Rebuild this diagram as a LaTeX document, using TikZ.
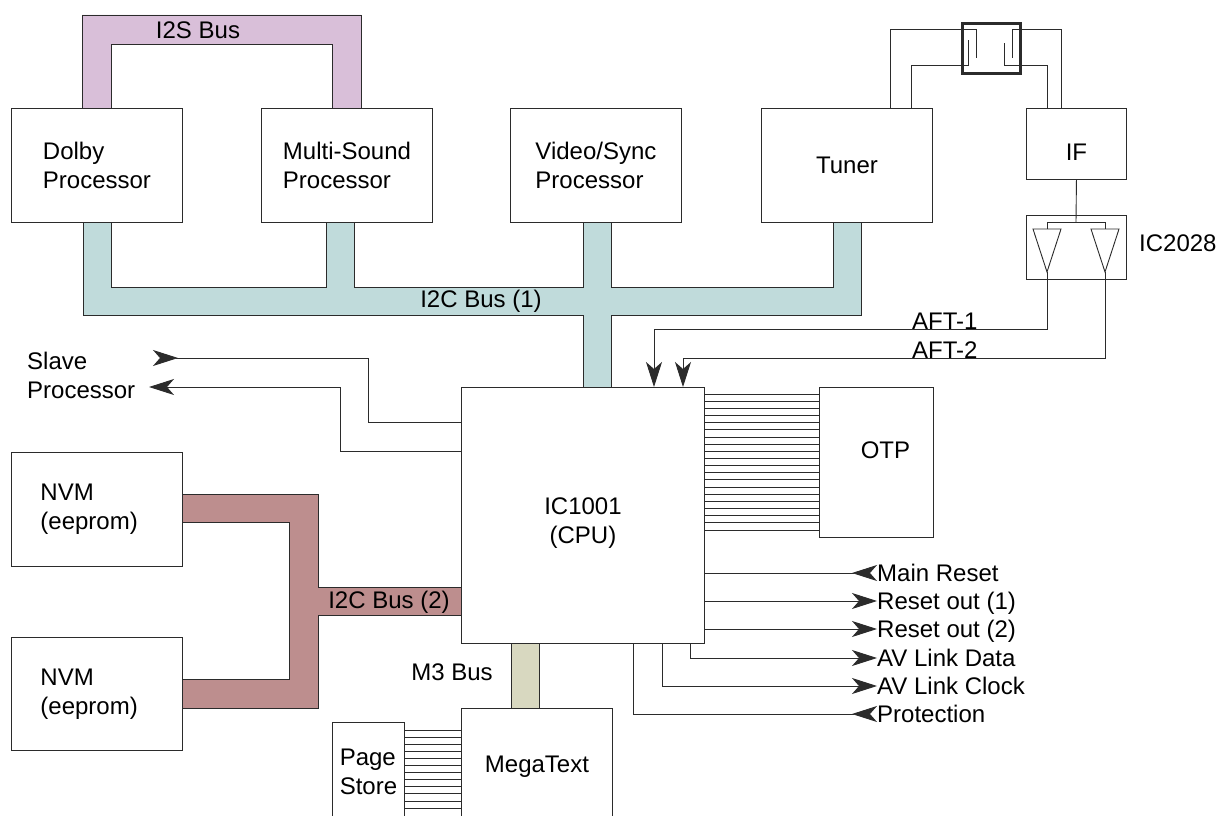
\documentclass[tikz,border=0pt]{standalone}
\usepackage{fontspec}
\setmainfont{Liberation Sans}
\usetikzlibrary{arrows.meta, positioning, calc}
\definecolor{ink}{HTML}{2B2B2B}
\definecolor{i2sbus}{HTML}{D9BFD9}
\definecolor{i2cone}{HTML}{C0DBDB}
\definecolor{i2ctwo}{HTML}{BD8E8E}
\definecolor{mthree}{HTML}{D8D8C0}
\tikzset{
  block/.style    = {rectangle, draw=ink, line width=0.9pt, fill=white, anchor=north west,
                      align=left, inner sep=0pt, font=\fontsize{24}{29}\selectfont},
  buslabel/.style = {font=\fontsize{24}{29}\selectfont, inner sep=0pt},
  siglabel/.style = {font=\fontsize{24}{29}\selectfont, inner sep=0pt, anchor=west,
                      text height=17pt, text depth=0pt},
  wire/.style     = {draw=ink, line width=0.9pt},
  busedge/.style  = {draw=ink, line width=0.9pt},
  sigout/.style   = {wire, -{Stealth[length=25pt, width=16pt, inset=7pt]}},
  sigin/.style    = {wire, -{Stealth[length=25pt, width=16pt, inset=7pt, reversed]}},
}
\begin{document}
\begin{tikzpicture}[x=1pt, y=-1pt]
  \useasboundingbox (0,0) rectangle (1221,816);
  \clip (0,0) rectangle (1221,816);

  \fill[i2sbus] (82,108) -- (82,15) -- (361,15) -- (361,108) -- (332,108) -- (332,44) -- (111,44) -- (111,108) -- cycle;
  \draw[busedge] (82,108) -- (82,15) -- (361,15) -- (361,108);
  \draw[busedge] (332,108) -- (332,44) -- (111,44) -- (111,108);

  \fill[i2cone] (83,222) -- (83,315) -- (583,315) -- (583,387) -- (611,387) -- (611,315) -- (861,315)
    -- (861,222) -- (833,222) -- (833,287) -- (611,287) -- (611,222) -- (583,222) -- (583,287)
    -- (354,287) -- (354,222) -- (326,222) -- (326,287) -- (111,287) -- (111,222) -- cycle;
  \draw[busedge] (83,222) -- (83,315) -- (583,315) -- (583,387);
  \draw[busedge] (611,387) -- (611,315) -- (861,315) -- (861,222);
  \draw[busedge] (833,222) -- (833,287) -- (611,287) -- (611,222);
  \draw[busedge] (583,222) -- (583,287) -- (354,287) -- (354,222);
  \draw[busedge] (326,222) -- (326,287) -- (111,287) -- (111,222);

  \fill[i2ctwo] (182,494) -- (318,494) -- (318,587) -- (461,587) -- (461,615) -- (318,615) -- (318,708)
    -- (182,708) -- (182,679) -- (289,679) -- (289,522) -- (182,522) -- cycle;
  \draw[busedge] (182,494) -- (318,494) -- (318,587) -- (461,587);
  \draw[busedge] (461,615) -- (318,615) -- (318,708) -- (182,708);
  \draw[busedge] (182,679) -- (289,679) -- (289,522) -- (182,522);

  \fill[mthree] (511,643) rectangle (539,708);
  \draw[busedge] (511,643) -- (511,708);
  \draw[busedge] (539,643) -- (539,708);

  \node[block, minimum width=171pt, minimum height=114pt] (dolby) at (11,108) {Dolby\\Processor};
  \node[block, minimum width=171pt, minimum height=114pt] (msp) at (261,108) {Multi-Sound\\Processor};
  \node[block, minimum width=171pt, minimum height=114pt] (video) at (510,108) {Video/Sync\\Processor};
  \node[block, minimum width=171pt, minimum height=114pt] (tuner) at (761,108) {Tuner};
  \node[block, minimum width=100pt, minimum height=71pt,
        label={[buslabel, yshift=-8pt]center:IF}] (if) at (1026,108) {};
  \node[block, minimum width=100pt, minimum height=64pt] (ic2028) at (1026,215) {};
  \node[block, minimum width=243pt, minimum height=256pt,
        label={[buslabel, align=center, yshift=-8pt]center:{IC1001\\(CPU)}}] (cpu) at (461,387) {};
  \node[block, minimum width=114pt, minimum height=150pt,
        label={[buslabel, xshift=9pt, yshift=12pt]center:OTP}] (otp) at (819,387) {};
  \node[block, minimum width=171pt, minimum height=114pt, text width=113pt] (nvma) at (11,452) {NVM\\(eeprom)};
  \node[block, minimum width=171pt, minimum height=113pt, text width=113pt] (nvmb) at (11,637) {NVM\\(eeprom)};
  \node[block, minimum width=151pt, minimum height=116pt] (mega) at (461,708) {MegaText};
  \node[block, minimum width=72pt, minimum height=99pt] (page) at (332,722) {Page\\Store};
  \node[draw=ink, line width=2.6pt, minimum width=58pt, minimum height=50pt, anchor=north west,
        inner sep=0pt] (saw) at (961,22) {};

  \node[buslabel] (i2slbl) at (198,30) {I2S Bus};
  \node[buslabel] (i2conelbl) at (481,301) {I2C Bus (1)};
  \node[buslabel] (i2ctwolbl) at (389,602) {I2C Bus (2)};
  \node[buslabel] (mthreelbl) at (452,672) {M3 Bus};
  \node[siglabel] (ic2028lbl) at (1139,243) {IC2028};
  \node[buslabel, anchor=west, align=left] (slave) at (27,375) {Slave\\Processor};

  \draw[wire] (tuner.north -| 890,0) |- (976,29) -- (976,58);
  \draw[wire] (tuner.north -| 911,0) |- (968,65) -- (968,40);
  \draw[wire] (if.north -| 1061,0) |- (1012,29) -- (1012,58);
  \draw[wire] (if.north -| 1047,0) |- (1004,65) -- (1004,43);

  \coordinate (tipa) at (1047,272);
  \coordinate (tipb) at (1105,272);
  \draw[wire] (if.south) -- (1076,222);
  \draw[wire] (1047,229) -- (1047,222) -- (1105,222) -- (1105,229);
  \draw[wire] (1033,229) -- (1061,229) -- (tipa) -- cycle;
  \draw[wire] (1091,229) -- (1119,229) -- (tipb) -- cycle;

  \draw[sigout] (tipa) |- (654,329) -- (cpu.north -| 654,0);
  \draw[sigout] (tipb) |- (683,358) -- (cpu.north -| 683,0);
  \node[buslabel, anchor=base west] (aftone) at (912,329) {AFT-1};
  \node[buslabel, anchor=base west] (afttwo) at (912,358) {AFT-2};

  \foreach \i [evaluate=\i as \y using 394+7.16*\i] in {0,...,19}
    \draw[wire] (cpu.east |- 0,\y) -- (otp.west |- 0,\y);
  \foreach \i [evaluate=\i as \y using 730+7.1*\i] in {0,...,11}
    \draw[wire] (page.east |- 0,\y) -- (mega.west |- 0,\y);

  \coordinate (slin) at (153,358);
  \coordinate (slout) at (149,387);
  \draw[sigin] (cpu.west |- 0,422) -| (368,358) -- (slin);
  \draw[sigout] (cpu.west |- 0,451) -| (340,387) -- (slout);

  \node[siglabel] (mainreset) at (877,573) {Main Reset};
  \node[siglabel] (resetone) at (877,601) {Reset out (1)};
  \node[siglabel] (resettwo) at (877,629) {Reset out (2)};
  \node[siglabel] (avdata) at (877,658) {AV Link Data};
  \node[siglabel] (avclock) at (877,686) {AV Link Clock};
  \node[siglabel] (protect) at (877,714) {Protection};
  \draw[sigin] (cpu.east |- mainreset) -- (mainreset.west);
  \draw[sigout] (cpu.east |- resetone) -- (resetone.west);
  \draw[sigout] (cpu.east |- resettwo) -- (resettwo.west);
  \draw[sigout] (cpu.south -| 690,0) |- (avdata.west);
  \draw[sigout] (cpu.south -| 662,0) |- (avclock.west);
  \draw[sigin] (cpu.south -| 633,0) |- (protect.west);
\end{tikzpicture}
\end{document}
